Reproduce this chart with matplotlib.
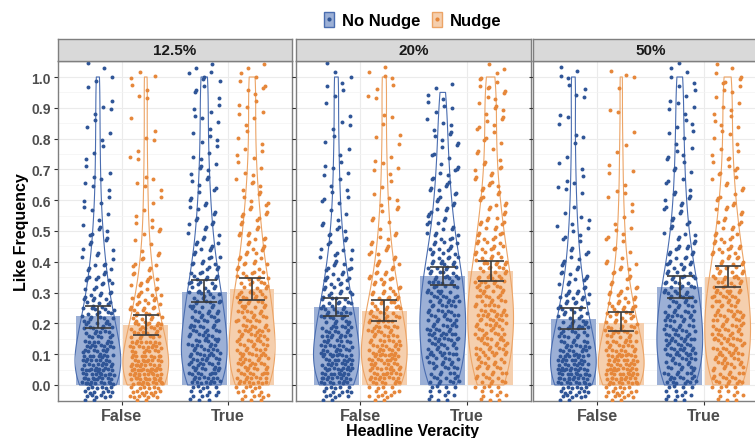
import numpy as np
import matplotlib.pyplot as plt
from matplotlib.patches import Patch
from matplotlib.lines import Line2D
from matplotlib.legend_handler import HandlerTuple

plt.rcParams['font.family'] = ['Liberation Sans', 'DejaVu Sans']

facets = ['12.5%', '20%', '50%']
veracity = ['False', 'True']
groups = ['No Nudge', 'Nudge']

# bar heights and error bar ends, [veracity][group]
means = {'12.5%': [[0.224, 0.195], [0.303, 0.311]],
         '20%':   [[0.252, 0.240], [0.353, 0.371]],
         '50%':   [[0.213, 0.201], [0.317, 0.351]]}
ci_low = {'12.5%': [[0.186, 0.163], [0.270, 0.277]],
          '20%':   [[0.225, 0.207], [0.326, 0.339]],
          '50%':   [[0.183, 0.174], [0.284, 0.319]]}
ci_high = {'12.5%': [[0.255, 0.228], [0.340, 0.347]],
           '20%':   [[0.282, 0.275], [0.382, 0.404]],
           '50%':   [[0.250, 0.236], [0.353, 0.387]]}

# response levels and rough number of participants at each level
levels = [0.0, 0.05, 0.1, 0.15, 0.2, 0.25, 0.3, 0.35, 0.4, 0.45, 0.5,
          0.55, 0.6, 0.65, 0.7, 0.75, 0.8, 0.85, 0.9, 0.95, 1.0]
counts = {
    ('12.5%', 'False', 'No Nudge'): [42, 30, 28, 24, 20, 16, 13, 11, 8, 7, 6, 4, 4, 3, 3, 3, 2, 3, 2, 2, 4],
    ('12.5%', 'False', 'Nudge'):    [45, 34, 30, 25, 20, 16, 12, 9, 7, 5, 4, 3, 3, 3, 2, 2, 2, 2, 1, 2, 4],
    ('12.5%', 'True', 'No Nudge'):  [30, 24, 24, 22, 21, 19, 16, 14, 11, 9, 8, 7, 6, 5, 5, 4, 4, 4, 3, 3, 8],
    ('12.5%', 'True', 'Nudge'):     [32, 22, 22, 22, 22, 20, 17, 14, 12, 10, 9, 8, 6, 5, 4, 4, 3, 3, 3, 3, 7],
    ('20%', 'False', 'No Nudge'):   [34, 28, 27, 25, 22, 18, 15, 12, 10, 8, 6, 5, 4, 4, 3, 3, 3, 2, 2, 2, 5],
    ('20%', 'False', 'Nudge'):      [30, 26, 26, 24, 22, 18, 14, 12, 9, 7, 6, 5, 4, 3, 3, 3, 2, 2, 2, 2, 5],
    ('20%', 'True', 'No Nudge'):    [22, 18, 20, 22, 22, 22, 20, 18, 16, 13, 11, 9, 8, 7, 6, 5, 5, 4, 4, 4, 0],
    ('20%', 'True', 'Nudge'):       [22, 16, 18, 20, 22, 22, 20, 18, 15, 13, 12, 10, 8, 7, 6, 5, 5, 5, 5, 5, 8],
    ('50%', 'False', 'No Nudge'):   [40, 30, 26, 22, 18, 15, 12, 9, 7, 6, 5, 4, 3, 3, 3, 2, 2, 2, 2, 2, 5],
    ('50%', 'False', 'Nudge'):      [38, 30, 26, 22, 18, 14, 11, 8, 6, 5, 4, 3, 3, 2, 2, 2, 2, 1, 1, 1, 3],
    ('50%', 'True', 'No Nudge'):    [26, 20, 22, 22, 22, 20, 18, 15, 12, 10, 8, 7, 6, 5, 5, 4, 4, 4, 3, 3, 6],
    ('50%', 'True', 'Nudge'):       [24, 18, 20, 21, 22, 21, 19, 16, 14, 12, 10, 9, 7, 6, 5, 5, 4, 4, 4, 4, 7],
}

dark = ['#2f5597', '#e6873a']
line = ['#4a6db0', '#eca466']
light = ['#9cb0d6', '#f5cfae']

fig = plt.figure(figsize=(7.55, 4.39), dpi=100)
lefts = [0.0768, 0.3927, 0.7066]
bottom, height, width = 0.0843, 0.7745, 0.3100
yticks = [0.0, 0.1, 0.2, 0.3, 0.4, 0.5, 0.6, 0.7, 0.8, 0.9, 1.0]

for i, f in enumerate(facets):
    ax = fig.add_axes([lefts[i], bottom, width, height])
    for vi, v in enumerate(veracity):
        for gi, g in enumerate(groups):
            xc = vi + 1 + (gi - 0.5) * 0.45
            m = means[f][vi][gi]
            ax.bar(xc, m, width=0.42, color=light[gi], zorder=1)
            vals = np.repeat(levels, counts[(f, v, g)])
            vp = ax.violinplot([vals], positions=[xc], widths=0.43,
                               showextrema=False, bw_method=0.33)
            for b in vp['bodies']:
                b.set_facecolor('none')
                b.set_edgecolor(line[gi])
                b.set_linewidth(0.8)
                b.set_alpha(1)
                b.set_zorder(2)
            # deterministic jitter (low discrepancy sequence)
            k = np.arange(len(vals))
            jx = ((k * 0.7548776662 + 0.31 + gi * 0.13) % 1 - 0.5) * 0.30
            jy = ((k * 0.5698402910 + 0.17 + vi * 0.29) % 1 - 0.5) * 0.10
            ax.scatter(xc + jx, vals + jy, s=8, color=dark[gi], lw=0, zorder=3)
            ax.errorbar(xc, m, yerr=[[m - ci_low[f][vi][gi]], [ci_high[f][vi][gi] - m]],
                        fmt='none', ecolor='#3a3a3a', elinewidth=1.2,
                        capsize=9.5, capthick=1.2, zorder=4)
    ax.set_xlim(0.4, 2.6)
    ax.set_ylim(-0.052, 1.052)
    ax.set_xticks([1, 2])
    ax.set_xticklabels(veracity, fontweight='bold', fontsize=11.5)
    ax.set_yticks(yticks)
    ax.set_yticks([0.05, 0.15, 0.25, 0.35, 0.45, 0.55, 0.65, 0.75, 0.85, 0.95], minor=True)
    if i == 0:
        ax.set_yticklabels(['%.1f' % t for t in yticks], fontweight='bold', fontsize=10)
    else:
        ax.set_yticklabels([])
        ax.tick_params(axis='y', length=0)
    ax.tick_params(axis='both', which='major', length=3, color='#333333',
                   labelcolor='#4d4d4d', pad=2)
    ax.tick_params(axis='y', which='minor', length=0)
    ax.grid(which='major', color='#ebebeb', lw=0.8)
    ax.grid(which='minor', axis='y', color='#f3f3f3', lw=0.5)
    ax.set_axisbelow(True)
    for s in ax.spines.values():
        s.set_color('#7f7f7f')
        s.set_linewidth(1)

    sx = fig.add_axes([lefts[i], bottom + height, width, 22 / 439])
    sx.set_facecolor('#d9d9d9')
    sx.set_xticks([])
    sx.set_yticks([])
    for s in sx.spines.values():
        s.set_color('#7f7f7f')
        s.set_linewidth(1)
    sx.text(0.5, 0.48, f, transform=sx.transAxes, ha='center', va='center',
            fontsize=11, fontweight='bold', color='#1a1a1a')

mid_x = (lefts[0] + lefts[2] + width) / 2
fig.text(mid_x, 0.018, 'Headline Veracity', ha='center', va='center',
         fontsize=11.5, fontweight='bold')
fig.text(0.029, bottom + height / 2, 'Like Frequency', ha='center', va='center',
         rotation=90, fontsize=11.5, fontweight='bold')

handles = []
for gi in range(2):
    handles.append((Patch(facecolor=light[gi], edgecolor=line[gi], lw=1),
                    Line2D([], [], marker='o', ms=2, color=dark[gi], ls='')))
fig.legend(handles, groups, loc='center', bbox_to_anchor=(mid_x, 1 - 21 / 439),
           ncol=2, frameon=False,
           handler_map={tuple: HandlerTuple(ndivide=1, pad=0)},
           prop={'weight': 'bold', 'size': 12}, handlelength=0.6, handleheight=1.0,
           handletextpad=0.5, columnspacing=0.7)

fig.savefig('out.png', dpi=100)
